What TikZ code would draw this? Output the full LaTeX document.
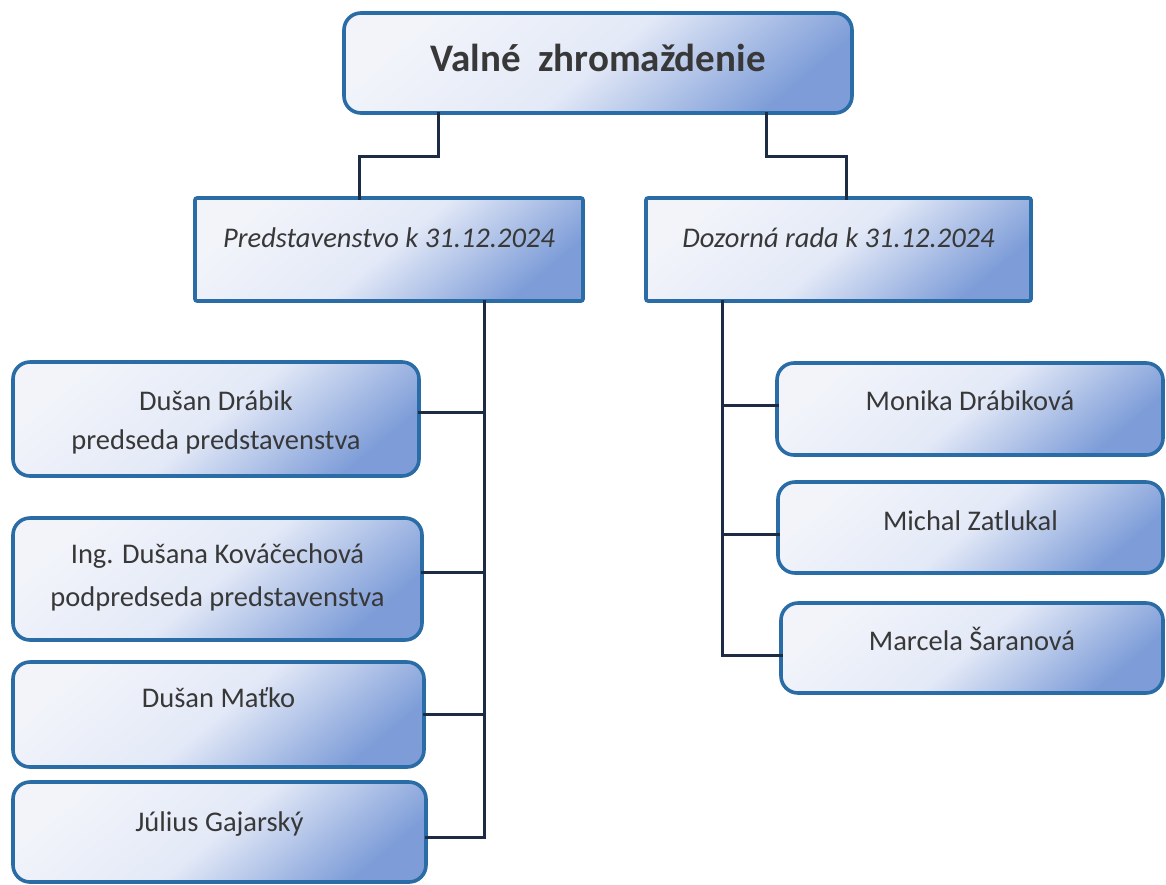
\documentclass[tikz,border=0pt]{standalone}
\usepackage{fontspec}
\setmainfont{Carlito}
\definecolor{bord}{HTML}{2A6CA6}
\definecolor{pale}{HTML}{F2F4FA}
\definecolor{midb}{HTML}{E3E9F7}
\definecolor{darkb}{HTML}{7E9DD8}
\definecolor{conn}{HTML}{1E2B45}
\definecolor{txtc}{HTML}{383838}
\begin{document}
\begin{tikzpicture}[x=1pt,y=-1pt,
  boxbase/.style={draw=bord, line width=3.6pt, inner sep=0pt, outer sep=0pt,
    top color=pale, bottom color=darkb, middle color=midb, shading angle=40},
  roundbox/.style={boxbase, rounded corners=17pt},
  sqbox/.style={boxbase, rounded corners=2pt},
  connline/.style={draw=conn, line width=3pt, line cap=rect},
  txt/.style={text=txtc, anchor=base, inner sep=0pt, font=\fontsize{28.5}{30}\selectfont},
  ttxt/.style={txt, font=\bfseries\fontsize{39}{41}\selectfont},
  itxt/.style={txt, font=\itshape\fontsize{28.5}{30}\selectfont}]
\useasboundingbox (0,0) rectangle (1166,884);

% boxes
\node[roundbox, minimum width=508pt, minimum height=100pt] (top) at (598,63) {};
\node[sqbox, minimum width=388pt, minimum height=103pt] (pv) at (389,249.5) {};
\node[sqbox, minimum width=385pt, minimum height=103pt] (dr) at (838.5,249.5) {};
\node[roundbox, minimum width=406pt, minimum height=114pt] (l1) at (216,419) {};
\node[roundbox, minimum width=409pt, minimum height=122pt] (l2) at (217.5,579) {};
\node[roundbox, minimum width=411pt, minimum height=105pt] (l3) at (218.5,714.5) {};
\node[roundbox, minimum width=413pt, minimum height=100pt] (l4) at (219.5,832) {};
\node[roundbox, minimum width=386pt, minimum height=92pt] (r1) at (970,409) {};
\node[roundbox, minimum width=385pt, minimum height=91pt] (r2) at (970.5,527.5) {};
\node[roundbox, minimum width=382pt, minimum height=90pt] (r3) at (972,648) {};

% texts
\node[ttxt] (ttl) at (598,71) {Valné\ \ zhromaždenie};
\node[itxt] (pvt) at (389,247) {Predstavenstvo k 31.12.2024};
\node[itxt] (drt) at (838.5,247) {Dozorná rada k 31.12.2024};
\node[txt] (l1a) at (216,410) {Dušan Drábik};
\node[txt] (l1b) at (216,449) {predseda predstavenstva};
\node[txt] (l2a) at (217.5,563) {Ing. Dušana Kováčechová};
\node[txt] (l2b) at (217.5,606) {podpredseda predstavenstva};
\node[txt] (l3a) at (218.5,707) {Dušan Maťko};
\node[txt] (l4a) at (219.5,831) {Július Gajarský};
\node[txt] (r1a) at (970,410) {Monika Drábiková};
\node[txt] (r2a) at (970.5,530) {Michal Zatlukal};
\node[txt] (r3a) at (972,650) {Marcela Šaranová};

% connectors top
\coordinate (j1) at (438,156);
\coordinate (j2) at (359,156);
\coordinate (j3) at (766,156);
\coordinate (j4) at (846,156);
\draw[connline] (top.south -| j1) -- (j1) -- (j2) -- (pv.north -| j2);
\draw[connline] (top.south -| j3) -- (j3) -- (j4) -- (dr.north -| j4);

% left trunk
\coordinate (t1) at (484,837);
\draw[connline] (pv.south -| t1) -- (t1) -- ([yshift=-5pt]l4.east);
\draw[connline] ([yshift=7pt]l1.east) -- ([yshift=7pt]l1.east -| t1);
\draw[connline] ([yshift=7pt]l2.east) -- ([yshift=7pt]l2.east -| t1);
\draw[connline] (l3.east) -- (l3.east -| t1);

% right trunk
\coordinate (t2) at (722,655);
\draw[connline] (dr.south -| t2) -- (t2) -- ([yshift=-7pt]r3.west);
\draw[connline] ([yshift=4pt]r1.west) -- ([yshift=4pt]r1.west -| t2);
\draw[connline] ([yshift=-6.5pt]r2.west) -- ([yshift=-6.5pt]r2.west -| t2);
\end{tikzpicture}
\end{document}
